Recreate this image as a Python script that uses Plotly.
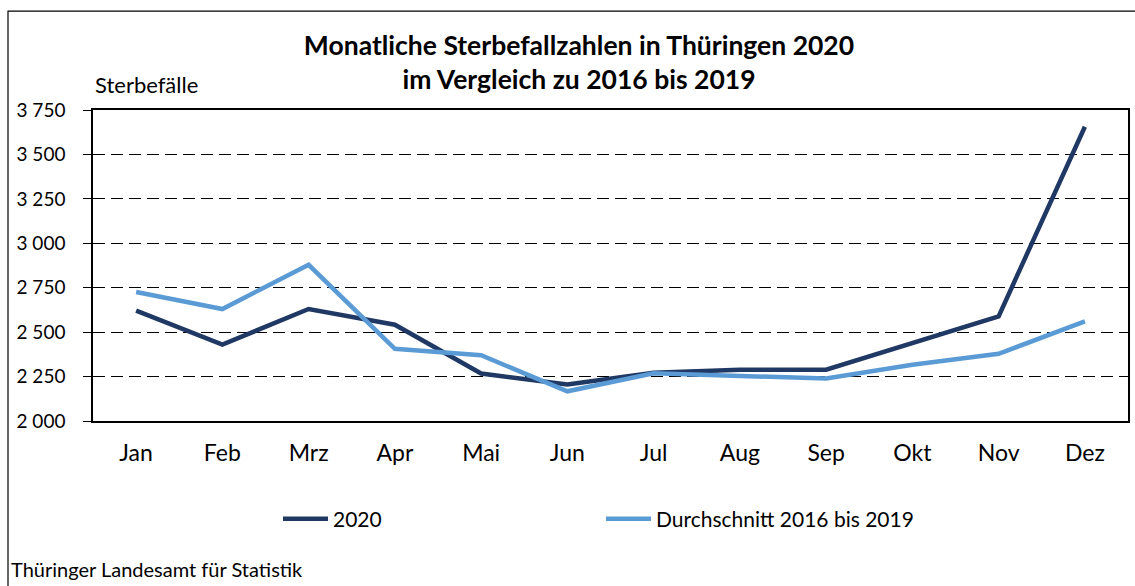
import plotly.graph_objects as go

months = ["Jan", "Feb", "Mrz", "Apr", "Mai", "Jun", "Jul", "Aug", "Sep", "Okt", "Nov", "Dez"]
deaths_2020 = [2621, 2430, 2630, 2542, 2267, 2205, 2271, 2289, 2289, 2436, 2589, 3656]
avg_2016_2019 = [2726, 2630, 2879, 2406, 2370, 2167, 2268, 2256, 2239, 2317, 2378, 2561]
y_tickvals = [2000, 2250, 2500, 2750, 3000, 3250, 3500, 3750]
y_ticktext = ["2 000", "2 250", "2 500", "2 750", "3 000", "3 250", "3 500", "3 750"]

FONT = "Lato"
L, T, W, H = 93, 110, 1035, 311.5
BOTTOM = T + H


def px(x):
    return (x - L) / W


def py(y):
    return (BOTTOM - y) / H


fig = go.Figure()
fig.add_trace(go.Scatter(x=months, y=deaths_2020, mode="lines", name="2020",
                         line=dict(color="#203864", width=4.5)))
fig.add_trace(go.Scatter(x=months, y=avg_2016_2019, mode="lines", name="Durchschnitt 2016 bis 2019",
                         line=dict(color="#5B9BD5", width=4.5)))

fig.update_layout(
    width=1135, height=586,
    margin=dict(l=L, r=1135 - L - W, t=T, b=586 - BOTTOM, autoexpand=False),
    paper_bgcolor="white", plot_bgcolor="white",
    font=dict(family=FONT, size=20, color="black"),
    title=dict(text="<b>Monatliche Sterbefallzahlen in Thüringen 2020<br>im Vergleich zu 2016 bis 2019</b>",
               xref="container", yref="container",
               x=579 / 1135, xanchor="center", y=1 - 55 / 586, yanchor="middle",
               font=dict(family=FONT, size=26.5, color="black")),
    showlegend=True,
    legend=dict(orientation="h", xref="container", yref="container",
                x=278 / 1135, xanchor="left", y=1 - 519 / 586, yanchor="middle",
                itemwidth=45, entrywidth=263, entrywidthmode="pixels",
                font=dict(family=FONT, size=21), bgcolor="rgba(0,0,0,0)"),
    shapes=[dict(type="rect", xref="paper", yref="paper",
                 x0=px(8), x1=px(1145), y0=py(600), y1=py(11),
                 line=dict(color="black", width=1.2), layer="below")],
    annotations=[
        dict(text="Sterbefälle", xref="paper", yref="paper", x=0, y=py(84),
             xanchor="left", yanchor="middle",
             showarrow=False, font=dict(family=FONT, size=22)),
        dict(text="Thüringer Landesamt für Statistik", xref="paper", yref="paper",
             x=px(9), y=py(570), xanchor="left", yanchor="middle",
             showarrow=False, font=dict(family=FONT, size=20)),
    ],
)

fig.update_xaxes(range=[-0.5, 11.5], automargin=False,
                 showline=True, linecolor="black", linewidth=1.5, mirror=True,
                 showgrid=False, ticks="", tickfont=dict(size=23), ticklabelstandoff=11)
fig.update_yaxes(range=[2000, 3750], tickvals=y_tickvals, ticktext=y_ticktext, automargin=False,
                 showline=True, linecolor="black", linewidth=1.5, mirror=True,
                 showgrid=True, gridcolor="black", gridwidth=1.3, griddash="12px,6px",
                 ticks="outside", ticklen=8, tickcolor="black", tickfont=dict(size=19),
                 ticklabelstandoff=14, zeroline=False)

fig.write_html("out.html", config={"displayModeBar": False},
               post_script="document.body.style.margin='0';")
